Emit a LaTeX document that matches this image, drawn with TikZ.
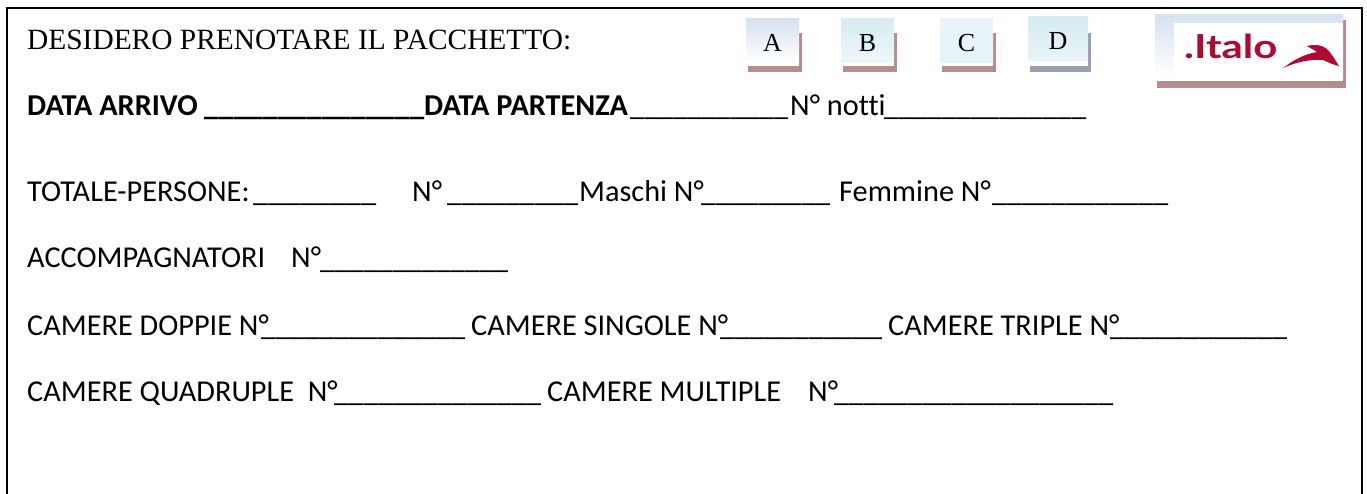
\documentclass[tikz,border=0pt]{standalone}
\usepackage{fontspec}
\setmainfont{Carlito}[RawFeature=-liga]
\newfontfamily\timesf{Liberation Serif}
\newfontfamily\logof{Lato}
\ExplSyntaxOn
\cs_new:Npn \myblanks #1 #2 {\resizebox*{#2pt}{\totalheight}{\prg_replicate:nn{#1}{\_}}}
\ExplSyntaxOff
\definecolor{italored}{RGB}{175,10,50}
\definecolor{shadowc}{RGB}{182,140,140}
\definecolor{shadowd}{RGB}{150,160,178}
\definecolor{boxtop}{RGB}{214,226,240}
\definecolor{boxcyan}{RGB}{214,236,242}
\definecolor{boxpale}{RGB}{232,244,248}
\begin{document}
\begin{tikzpicture}[x=1pt,y=-1pt,
  txt/.style={anchor=base west,inner sep=0pt,font=\fontsize{30.3}{36}\selectfont},
  btxt/.style={txt,font=\fontsize{30.3}{36}\selectfont\bfseries},
  ttl/.style={anchor=base west,inner sep=0pt,font=\fontsize{29.4}{35}\selectfont\timesf},
  letter/.style={inner sep=0pt,font=\fontsize{26}{30}\selectfont\timesf},
]
\useasboundingbox (0,0) rectangle (1367,494);
% frame
\draw[line width=1.8pt] (7,494) -- (7,8) -- (1362,8) -- (1362,494);

% title
\node[ttl] (title) at (27,50) {DESIDERO PRENOTARE IL PACCHETTO:};

% option boxes
\foreach \nm/\xa/\xb/\ya/\yb/\top/\bot/\sh in {A/746/799/19/63/boxtop/white/shadowc, B/841/894/19/63/boxcyan/boxcyan!40/shadowc, C/940/993/19/63/boxpale/boxcyan!60/shadowc, D/1028/1088/17/61/boxcyan/boxpale/shadowd}{
  \fill[\sh] (\xb,33) rectangle (\xb+3,72);
  \fill[\sh] (\xa+2,66) rectangle (\xb+3,72);
  \shade[top color=\top,bottom color=\bot] (\xa,\ya) rectangle (\xb,\yb);
  \node[letter] (box\nm) at ({(\xa+\xb)/2},{(\ya+\yb)/2+2}) {\nm};
}

% logo
\fill[shadowc] (1343,20) rectangle (1346,88);
\fill[shadowc] (1157,81) rectangle (1346,88);
\shade[top color=boxtop,bottom color=white] (1155,15) rectangle (1343,77);
\fill[white] (1174,23) rectangle (1343,77);
\node[anchor=base west,inner sep=0pt,text=italored,font=\logof\bfseries\fontsize{33}{36}\selectfont] (logo) at (1184,59) {\resizebox{93pt}{\height}{.Italo}};
\fill[italored] (1283,68) .. controls (1295,59) and (1305,54) .. (1317,52)
  -- (1307,46) .. controls (1315,44) and (1322,45) .. (1327,49)
  .. controls (1331,53) and (1334,58) .. (1339,66)
  .. controls (1333,65) and (1328,62) .. (1323,60)
  .. controls (1311,59) and (1296,62) .. (1283,68) -- cycle;

% line 2
\node[btxt] (darr) at (27,116) {DATA ARRIVO};
\node[btxt] (b1) at (204,116) {\myblanks{15}{220}};
\node[btxt] (dpar) at (424,116) {DATA PARTENZA};
\node[txt] (b2) at (630,116) {\myblanks{11}{158}};
\node[txt] (notti) at (790,116) {N° notti};
\node[txt] (b3) at (884,116) {\myblanks{14}{202}};

% line 3
\node[txt] (tot) at (27,202) {TOTALE-PERSONE:};
\node[txt] (b4) at (253,202) {\myblanks{8}{123}};
\node[txt] (n1) at (412,202) {N°};
\node[txt] (b5) at (447,202) {\myblanks{9}{131}};
\node[txt] (masc) at (579,202) {Maschi N°};
\node[txt] (b6) at (701,202) {\myblanks{9}{129}};
\node[txt] (femm) at (839,202) {Femmine N°};
\node[txt] (b7) at (992,202) {\myblanks{12}{176}};

% line 4
\node[txt] (acc) at (27,268) {ACCOMPAGNATORI};
\node[txt] (n2) at (291,268) {N°};
\node[txt] (b8) at (320,268) {\myblanks{13}{188}};

% line 5
\node[txt] (cdop) at (27,335) {CAMERE DOPPIE N°};
\node[txt] (b9) at (261,335) {\myblanks{14}{204}};
\node[txt] (csin) at (471,335) {CAMERE SINGOLE N°};
\node[txt] (b10) at (720,335) {\myblanks{11}{162}};
\node[txt] (ctri) at (888,335) {CAMERE TRIPLE N°};
\node[txt] (b11) at (1110,335) {\myblanks{12}{177}};

% line 6
\node[txt] (cqua) at (27,401) {CAMERE QUADRUPLE\ \ N°};
\node[txt] (b12) at (334,401) {\myblanks{14}{207}};
\node[txt] (cmul) at (547,401) {CAMERE MULTIPLE};
\node[txt] (n3) at (808,401) {N°};
\node[txt] (b13) at (834,401) {\myblanks{19}{279}};
\end{tikzpicture}
\end{document}
